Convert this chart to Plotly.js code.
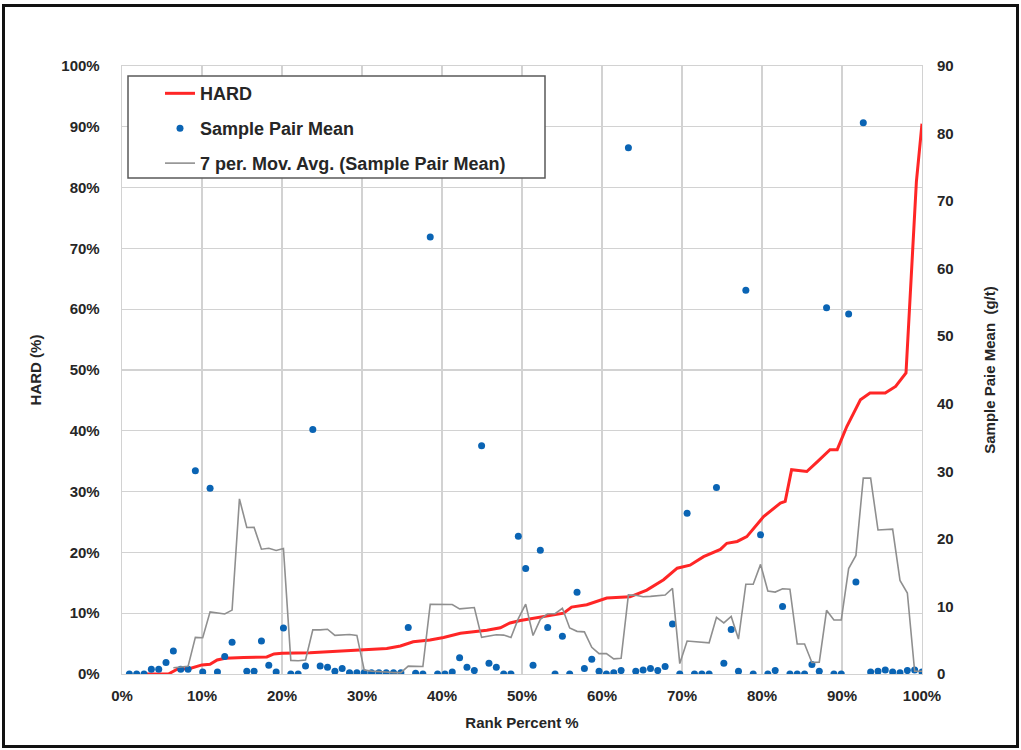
<!DOCTYPE html>
<html>
<head>
<meta charset="utf-8">
<script src="https://cdn.plot.ly/plotly-3.0.1.min.js"></script>
<style>
  html, body { margin: 0; padding: 0; background: #ffffff; }
  #wrap { position: relative; width: 1021px; height: 750px; overflow: hidden; }
  #chart { position: absolute; left: 0; top: 0; width: 1021px; height: 750px; }
  #frame { position: absolute; left: 2px; top: 4px; width: 1011px; height: 738px;
           border: 3px solid #111111; pointer-events: none; }
</style>
</head>
<body>
<div id="wrap">
  <div id="chart"></div>
  <div id="frame"></div>
</div>
<script>
// Rank percent of each sample pair (sorted by HARD)
const rankPct = [
  0.92, 1.83, 2.75, 3.67, 4.59, 5.50, 6.42, 7.34, 8.26, 9.17,
  10.09, 11.01, 11.93, 12.84, 13.76, 14.68, 15.60, 16.51, 17.43, 18.35,
  19.27, 20.18, 21.10, 22.02, 22.94, 23.85, 24.77, 25.69, 26.61, 27.52,
  28.44, 29.36, 30.28, 31.19, 32.11, 33.03, 33.94, 34.86, 35.78, 36.70,
  37.61, 38.53, 39.45, 40.37, 41.28, 42.20, 43.12, 44.04, 44.95, 45.87,
  46.79, 47.71, 48.62, 49.54, 50.46, 51.38, 52.29, 53.21, 54.13, 55.05,
  55.96, 56.88, 57.80, 58.72, 59.63, 60.55, 61.47, 62.39, 63.30, 64.22,
  65.14, 66.06, 66.97, 67.89, 68.81, 69.72, 70.64, 71.56, 72.48, 73.39,
  74.31, 75.23, 76.15, 77.06, 77.98, 78.90, 79.82, 80.73, 81.65, 82.57,
  83.49, 84.40, 85.32, 86.24, 87.16, 88.07, 88.99, 89.91, 90.83, 91.74,
  92.66, 93.58, 94.50, 95.41, 96.33, 97.25, 98.17, 99.08, 100.00
];

// Sample pair mean grade (g/t)
const pairMean = [
  0, 0, 0, 0.7, 0.7, 1.7, 3.4, 0.7, 0.7, 30.1,
  0.3, 27.5, 0.3, 2.6, 4.7, 116, 0.4, 0.4, 4.9, 1.3,
  0.3, 6.8, 0, 0, 1.2, 36.2, 1.2, 1.0, 0.4, 0.8,
  0.2, 0.2, 0.2, 0.2, 0.2, 0.2, 0.2, 0.2, 6.9, 0.1,
  0, 64.7, 0, 0, 0.3, 2.4, 1.0, 0.5, 33.8, 1.6,
  1.0, 0, 0, 20.4, 15.6, 1.3, 18.3, 6.9, 0, 5.6,
  0, 12.1, 0.8, 2.2, 0.4, 0, 0.2, 0.5, 77.9, 0.4,
  0.6, 0.8, 0.5, 1.1, 7.4, 0, 23.8, 0, 0, 0,
  27.6, 1.6, 6.6, 0.4, 56.8, 0, 20.6, 0, 0.5, 10.0,
  0, 0, 0, 1.4, 0.4, 54.2, 0, 0, 53.3, 13.6,
  81.6, 0.3, 0.4, 0.6, 0.3, 0.2, 0.5, 0.6, 0.3
];

// HARD (%) curve against rank percent
const hardRank = [
  2.9, 5.8, 6.9, 8.5, 10.0, 11.0, 11.9, 12.9, 15.2, 18.1,
  19.0, 20.0, 23.5, 24.8, 27.5, 29.8, 33.1, 34.8, 36.4, 38.5,
  40.2, 42.3, 44.0, 45.6, 47.3, 48.5, 49.8, 52.3, 54.8, 55.2,
  56.2, 58.1, 60.6, 63.5, 65.6, 67.7, 69.4, 71.0, 72.7, 74.8,
  75.6, 76.9, 78.1, 80.2, 82.3, 82.9, 83.7, 85.6, 86.9, 88.5,
  89.4, 90.6, 92.3, 93.5, 95.4, 96.7, 98.0, 98.5, 98.9, 99.3,
  100.0
];
const hardPct = [
  0, 0, 0.8, 0.9, 1.5, 1.6, 2.3, 2.6, 2.7, 2.8,
  3.3, 3.4, 3.5, 3.6, 3.8, 4.0, 4.2, 4.6, 5.3, 5.6,
  6.0, 6.7, 6.9, 7.2, 7.6, 8.4, 8.8, 9.4, 10.0, 10.0,
  11.0, 11.4, 12.5, 12.7, 13.8, 15.5, 17.4, 17.9, 19.3, 20.5,
  21.5, 21.8, 22.6, 25.9, 28.1, 28.4, 33.6, 33.3, 34.9, 36.9,
  36.9, 40.7, 45.1, 46.2, 46.2, 47.3, 49.5, 61.5, 73.0, 81.0,
  90.5
];

// Axis tick values and their labels
const pctTicks = [0, 10, 20, 30, 40, 50, 60, 70, 80, 90, 100];
const pctLabels = ['0%', '10%', '20%', '30%', '40%', '50%', '60%', '70%', '80%', '90%', '100%'];
const gradeTicks = [0, 10, 20, 30, 40, 50, 60, 70, 80, 90];
const gradeLabels = ['0', '10', '20', '30', '40', '50', '60', '70', '80', '90'];

// 7-period trailing moving average of the sample pair mean
const maPeriod = 7;
const maX = [], maY = [];
for (let i = maPeriod - 1; i < pairMean.length; i++) {
  let s = 0;
  for (let k = i - maPeriod + 1; k <= i; k++) s += pairMean[k];
  maX.push(rankPct[i]);
  maY.push(s / maPeriod);
}

const FONT = '"Liberation Sans", Arial, sans-serif';
const TXT = '#262626';
const boldFont = (size) => ({ family: FONT, size: size, color: TXT, weight: 'bold' });

const traces = [
  {
    x: hardRank, y: hardPct, name: 'HARD', type: 'scatter', mode: 'lines',
    line: { color: '#ff2626', width: 3 }, yaxis: 'y', legendgroup: 'a'
  },
  {
    x: rankPct, y: pairMean, name: 'Sample Pair Mean', type: 'scatter', mode: 'markers',
    marker: { color: '#0a64b4', size: 7 }, yaxis: 'y2', legendgroup: 'b'
  },
  {
    x: maX, y: maY, name: '7 per. Mov. Avg. (Sample Pair Mean)', type: 'scatter', mode: 'lines',
    line: { color: '#8f8f8f', width: 1.6 }, yaxis: 'y2', legendgroup: 'c'
  }
];

const layout = {
  width: 1021, height: 750,
  margin: { l: 122, r: 99, t: 66, b: 76 },
  paper_bgcolor: '#ffffff', plot_bgcolor: '#ffffff',
  font: boldFont(15),
  showlegend: true,
  legend: {
    x: 0.0475, y: 0.985, xanchor: 'left', yanchor: 'top',
    bgcolor: 'rgba(0,0,0,0)', borderwidth: 0,
    font: boldFont(18),
    tracegroupgap: 8.5
  },
  xaxis: {
    range: [0, 100], tickmode: 'array', tickvals: pctTicks, ticktext: pctLabels,
    showgrid: true, gridcolor: '#d2d2d2', gridwidth: 1.3,
    showline: true, linecolor: '#d2d2d2', linewidth: 1.3, mirror: true,
    zeroline: false, ticks: '', ticklabelstandoff: 8,
    tickfont: boldFont(15),
    title: { text: 'Rank Percent %', standoff: 14, font: boldFont(15) },
    automargin: false
  },
  yaxis: {
    range: [0, 100], tickmode: 'array', tickvals: pctTicks, ticktext: pctLabels,
    showgrid: true, gridcolor: '#d2d2d2', gridwidth: 1.3,
    showline: true, linecolor: '#d2d2d2', linewidth: 1.3, mirror: true,
    zeroline: false, ticks: '', ticklabelstandoff: 18,
    tickfont: boldFont(15),
    title: { text: 'HARD (%)', standoff: 16, font: boldFont(15) },
    automargin: false
  },
  yaxis2: {
    range: [0, 90], tickmode: 'array', tickvals: gradeTicks, ticktext: gradeLabels,
    overlaying: 'y', side: 'right',
    showgrid: false, zeroline: false, showline: false, ticks: '', ticklabelstandoff: 14,
    tickfont: boldFont(15),
    title: { text: 'Sample Paie Mean \u00a0(g/t)', standoff: 31, font: boldFont(15) },
    automargin: false
  },
  shapes: [
    {
      type: 'rect', xref: 'paper', yref: 'paper', layer: 'above',
      x0: 0.0075, x1: 0.52875, y0: 0.8158, y1: 0.9836,
      fillcolor: '#ffffff', line: { color: '#595959', width: 1.5 }
    }
  ]
};

Plotly.newPlot('chart', traces, layout, { displayModeBar: false, staticPlot: true });
</script>
</body>
</html>
